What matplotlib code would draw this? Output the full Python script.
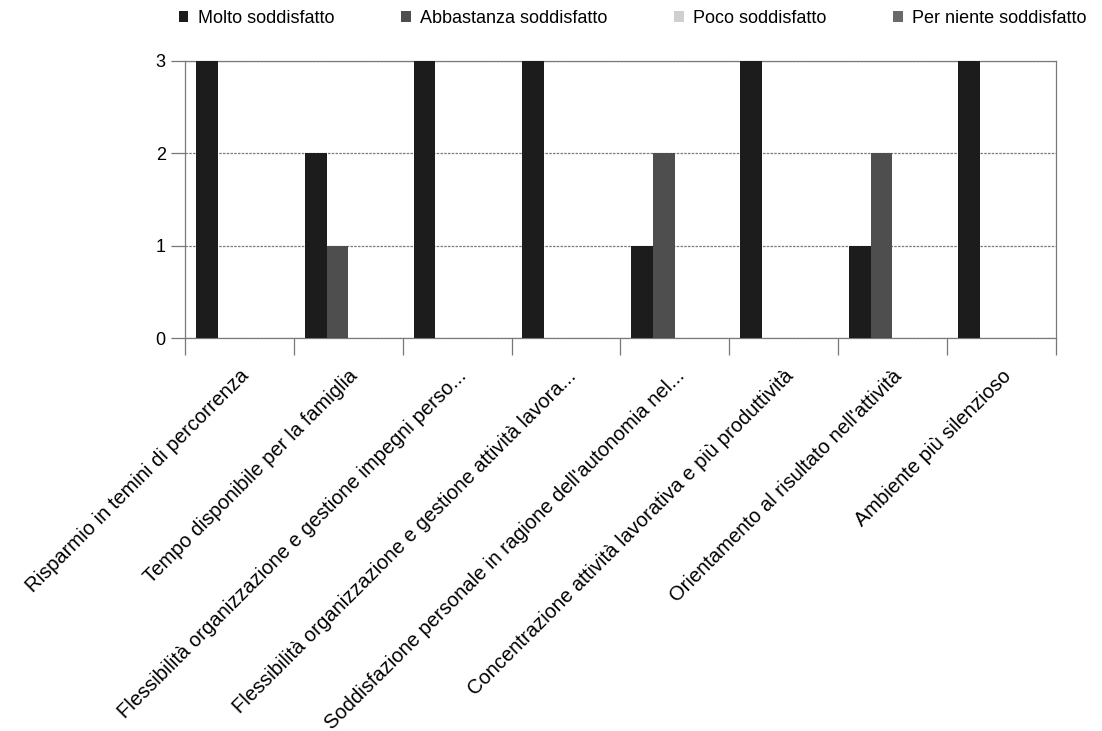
import numpy as np
import matplotlib.pyplot as plt
from matplotlib.patches import Patch

plt.rcParams['font.family'] = ['Liberation Sans', 'DejaVu Sans']

categorie = [
    "Risparmio in temini di percorrenza",
    "Tempo disponibile per la famiglia",
    "Flessibilità organizzazione e gestione impegni perso...",
    "Flessibilità organizzazione e gestione attività lavora...",
    "Soddisfazione personale in ragione dell'autonomia nel...",
    "Concentrazione attività lavorativa e più produttività",
    "Orientamento al risultato nell'attività",
    "Ambiente più silenzioso",
]
serie = ["Molto soddisfatto", "Abbastanza soddisfatto", "Poco soddisfatto", "Per niente soddisfatto"]
molto = [3, 2, 3, 3, 1, 3, 1, 3]
abbastanza = [0, 1, 0, 0, 2, 0, 2, 0]
poco = [0, 0, 0, 0, 0, 0, 0, 0]
per_niente = [0, 0, 0, 0, 0, 0, 0, 0]
colori = ['#1c1c1c', '#4e4e4e', '#cfcfcf', '#6a6a6a']

fig = plt.figure(figsize=(11.02, 7.31), dpi=100)
ax = fig.add_axes([0.168, 0.537, 0.790, 0.380])

x = np.arange(len(categorie))
w = 0.2
valori = [molto, abbastanza, poco, per_niente]
for i, (v, c) in enumerate(zip(valori, colori)):
    ax.bar(x - 0.3 + i * w, v, width=w, color=c, linewidth=0, zorder=3)

ax.set_xlim(-0.5, len(categorie) - 0.5)
ax.set_ylim(0, 3)
ax.set_yticks([0, 1, 2, 3])
ax.yaxis.grid(True, color='#7a7a7a', linewidth=0.9, linestyle=(0, (2, 1)), zorder=1)

# tick fra le categorie, etichette al centro
ax.set_xticks(np.arange(-0.5, len(categorie)), minor=False)
ax.set_xticklabels([])
ax.set_xticks(x, minor=True)
ax.set_xticklabels(categorie, minor=True, rotation=45, ha='right',
                   rotation_mode='anchor', fontsize=14.5)
ax.tick_params(axis='x', which='minor', length=0, pad=20)
ax.tick_params(axis='x', which='major', length=12, color='#777777', width=0.9)
ax.tick_params(axis='y', length=10, color='#777777', width=0.9, labelsize=13, pad=4)

for s in ['left', 'right', 'bottom', 'top']:
    ax.spines[s].set_color('#7a7a7a')
    ax.spines[s].set_linewidth(0.9)
ax.spines['top'].set_linestyle((0, (2, 1)))

handles = [Patch(facecolor=c, edgecolor='none') for c in colori]
fig.legend(handles, serie, loc='center', bbox_to_anchor=(0.574, 0.975), ncol=4,
           frameon=False, fontsize=13, handlelength=0.55, handleheight=0.55,
           handletextpad=0.5, columnspacing=3.7)

fig.savefig('out.png', dpi=100)
